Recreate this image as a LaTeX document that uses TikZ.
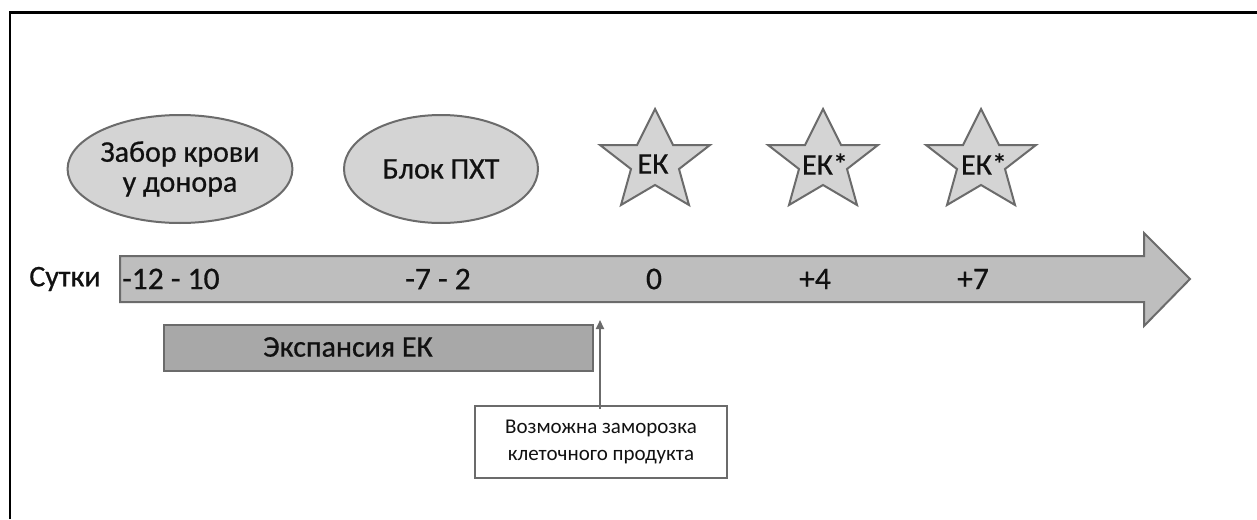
\documentclass[tikz,border=0pt]{standalone}
\usepackage{fontspec}
\setmainfont{Carlito}
\newfontfamily\heavyfont{Carlito}[FakeBold=0.6]
\usetikzlibrary{shapes.geometric,arrows.meta}
\definecolor{edgegray}{HTML}{6B6B6B}
\definecolor{lightfill}{HTML}{D4D4D4}
\definecolor{arrowfill}{HTML}{BEBEBE}
\definecolor{darkfill}{HTML}{A8A8A8}
\definecolor{txt}{HTML}{111111}
\tikzset{
  big/.style={font=\heavyfont\fontsize{30}{30}\selectfont, text=txt},
  small/.style={font=\fontsize{21}{27}\selectfont, text=txt},
  oval/.style={ellipse, draw=edgegray, line width=2pt, fill=lightfill, minimum width=194pt, minimum height=108pt, inner sep=0pt, align=center, big},
  starline/.style={draw=edgegray, line width=2pt, fill=lightfill, line join=miter},
  startext/.style={big, inner sep=0pt},
  daylabel/.style={font=\heavyfont\fontsize{31.5}{31.5}\selectfont, text=txt, inner sep=2pt},
}
\newcommand{\starshape}[1]{%
  \path[starline, shift={#1}] (0,-53) -- (18,-17) -- (55,-17) -- (24,7) -- (34,43) -- (0,23) -- (-34,43) -- (-24,7) -- (-55,-17) -- (-18,-17) -- cycle;}
\begin{document}
\begin{tikzpicture}[x=1pt,y=-1pt]
\useasboundingbox (0,0) rectangle (1257,519);
\fill[white] (0,0) rectangle (1257,519);
% frame
\draw[black, line width=2.5pt] (10,519) -- (10,12.5) -- (1257,12.5);
% ellipses
\node[oval] (blood) at (180,169) {Забор крови\\у донора};
\node[oval] (chemo) at (441,169) {Блок ПХТ};
% stars
\starshape{(655,162)}
\starshape{(823,162)}
\starshape{(981,162)}
\node[startext] (t1) at (653,164) {ЕК};
\node[startext] (t2) at (825,164) {ЕК*};
\node[startext] (t3) at (984,164) {ЕК*};
% timeline arrow
\draw[edgegray, line width=2pt, fill=arrowfill]
  (120,256) -- (1144,256) -- (1144,233) -- (1190,279) -- (1144,326) -- (1144,302) -- (120,302) -- cycle;
\node[big] (days) at (65,279) {Сутки};
\node[daylabel, anchor=west] (d1) at (120,279) {-12 - 10};
\node[daylabel] (d2) at (438,279) {-7 - 2};
\node[daylabel] (d3) at (654,279) {0};
\node[daylabel] (d4) at (815,279) {+4};
\node[daylabel] (d5) at (973,279) {+7};
% expansion bar
\node[draw=edgegray, line width=2pt, fill=darkfill, minimum width=429pt, minimum height=46pt, inner sep=0pt, anchor=north west] (exp) at (163,324) {};
\node[big] (exptext) at (348,347) {Экспансия ЕК};
% freeze box
\node[draw=edgegray, line width=2pt, fill=white, minimum width=252pt, minimum height=72pt, inner sep=0pt, align=center, small] (freeze) at (601,442) {Возможна заморозка\\клеточного продукта};
\coordinate (freezetip) at (600,320);
\draw[edgegray, line width=2pt, -{Triangle[length=9pt,width=8pt]}] ([xshift=-1pt,yshift=-4pt]freeze.north) -- (freezetip);
\end{tikzpicture}
\end{document}
